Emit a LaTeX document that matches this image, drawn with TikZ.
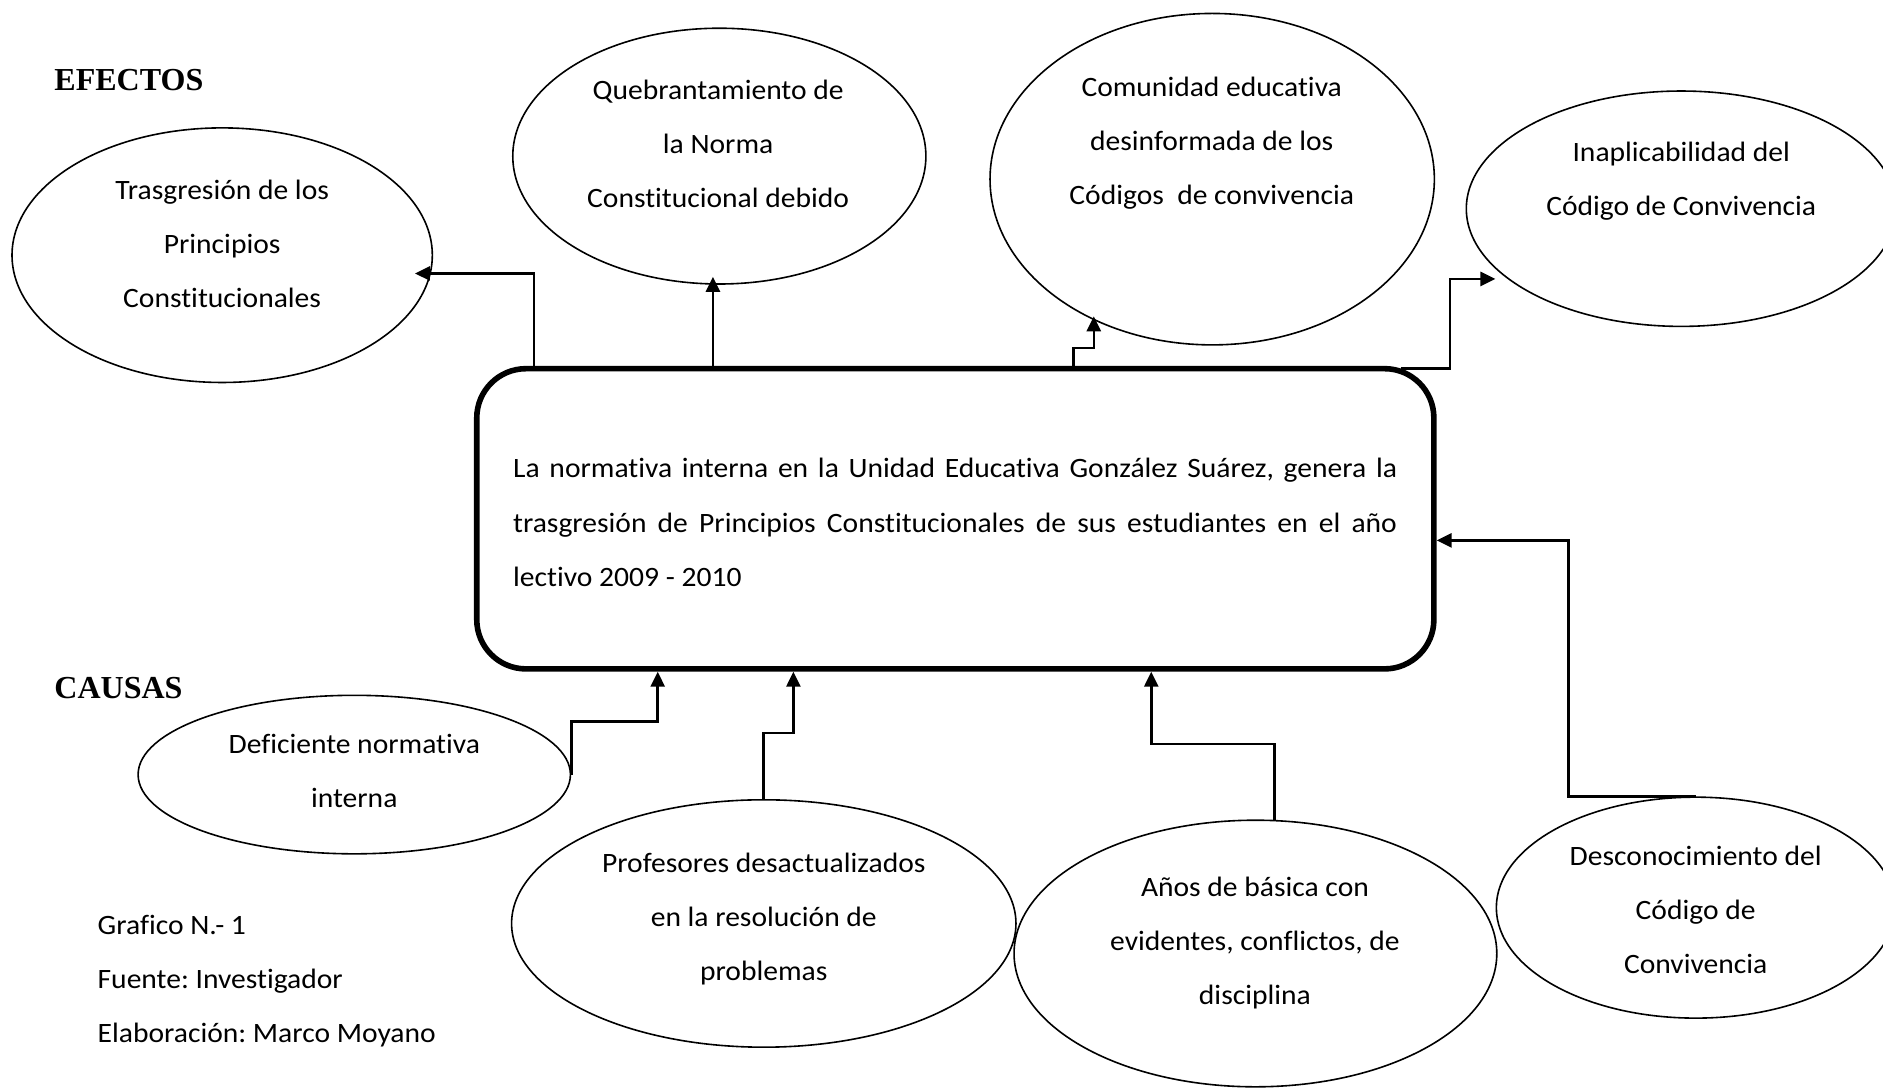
\documentclass[tikz,border=0pt]{standalone}
\usepackage{fontspec}
\setmainfont{Carlito}[FakeStretch=1.055,Ligatures=NoCommon]
\newfontfamily\timesfam{Liberation Serif}
\usetikzlibrary{shapes.geometric,arrows.meta,calc}
\frenchspacing
\begin{document}
\begin{tikzpicture}[x=0.6pt,y=-0.6pt,
  ell/.style={draw,ellipse,inner sep=0pt,line width=0.8pt},
  lbl/.style={align=center,font=\fontsize{14}{27}\selectfont,inner sep=0pt},
  conn/.style={line width=1.3pt,-{Triangle[length=7.5pt,width=7pt]}},
  ttl/.style={font=\timesfam\bfseries\fontsize{16}{18}\selectfont,anchor=west,inner sep=0pt}
]
\useasboundingbox (0,0) rectangle (1568,906);
\fill[white] (0,0) rectangle (1568,906);

% titles
\node[ttl] (efe) at (45,67) {EFECTOS};
\node[ttl] (cau) at (45,573) {CAUSAS};

% central box
\node[draw,rounded corners=24.6pt,line width=2.8pt,minimum width=478.2pt,minimum height=150pt,
      inner sep=0pt] (box) at (795.5,432) {};
\node[inner sep=0pt,anchor=west,font=\fontsize{14}{27}\selectfont] (tb) at (427,435)
 {\vbox{\spaceskip=0.24em plus 1fil minus 0.06em
   \hbox to 441.6pt{La normativa interna en la Unidad Educativa González Suárez, genera la}
   \hbox to 441.6pt{trasgresión de Principios Constitucionales de sus estudiantes en el año}
   \hbox{lectivo 2009 - 2010}}};

% effects
\node[ell,minimum width=210pt,minimum height=127.2pt] (e1) at (185,212.5) {};
\node[lbl] (t1) at (185,203) {Trasgresión de los\\Principios\\Constitucionales};
\node[ell,minimum width=206.4pt,minimum height=127.8pt] (e2) at (599,130) {};
\node[lbl] (t2) at (598,120) {Quebrantamiento de\\la Norma\\Constitucional debido};
\node[ell,minimum width=222pt,minimum height=165.6pt] (e3) at (1009.4,149.2) {};
\node[lbl] (t3) at (1009,119) {Comunidad educativa\\desinformada de los\\Códigos \ de convivencia};
\node[ell,minimum width=214.8pt,minimum height=117.6pt] (e4) at (1400,173.8) {};
\node[lbl] (t4) at (1400,150.5) {Inaplicabilidad del\\Código de Convivencia};

% causes
\node[ell,minimum width=216pt,minimum height=79.2pt] (e5) at (295,645) {};
\node[lbl] (t5) at (295,642) {Deficiente normativa\\interna};
\node[ell,minimum width=252pt,minimum height=123.6pt] (e6) at (636,769) {};
\node[lbl] (t6) at (636,765) {Profesores desactualizados\\en la resolución de\\problemas};
\node[ell,minimum width=241.2pt,minimum height=133.2pt] (e7) at (1045.4,794) {};
\node[lbl] (t7) at (1045,785) {Años de básica con\\evidentes, conflictos, de\\disciplina};
\node[ell,minimum width=199.2pt,minimum height=110.4pt] (e8) at (1412,755.8) {};
\node[lbl] (t8) at (1412,758) {Desconocimiento del\\Código de\\Convivencia};

% footer
\node[lbl,align=left,anchor=west] (foot) at (81,817) {Grafico N.- 1\\Fuente: Investigador\\Elaboración: Marco Moyano};

% connectors to effects
\draw[conn,shorten >=-8pt] ($(box.north west)+(50,0)$) |- (e1.-5.45);
\draw[conn,shorten >=-4pt] ($(box.north west)+(199,0)$) coordinate (s2) -- (s2 |- e2.south);
\draw[conn,shorten >=-2pt] ($(box.north west)+(499,0)$) -- ++(0,-15) -| (e3.-130);
\draw[conn,shorten >=6pt] ($(box.north east)+(-30,2)$) -- ++(41,0) |- (e4.202.5);

% connectors from causes
\draw[conn] (e5.east) -- ++(0,-44) -| ($(box.south west)+(153,0)$);
\draw[conn] (e6.north) -- ++(0,-55) -| ($(box.south west)+(266,0)$);
\draw[conn] (e7.82) -- ++(0,-63) -| ($(box.south west)+(564,0)$);
\draw[conn] (e8.north) -- ++(-106,0) |- ($(box.east)+(0,18)$);
\end{tikzpicture}
\end{document}
